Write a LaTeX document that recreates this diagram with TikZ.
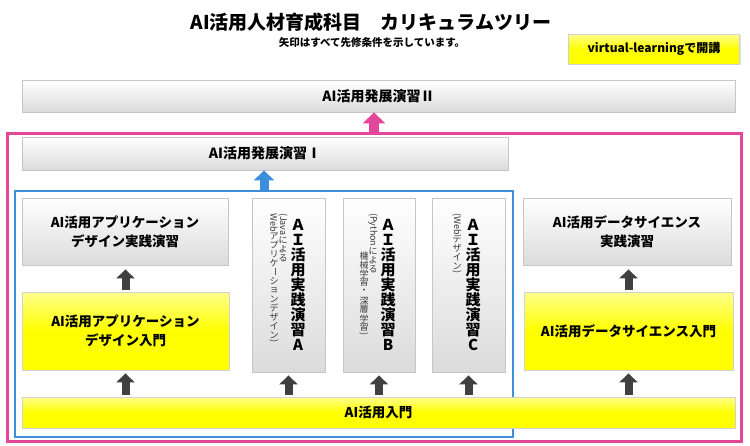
\documentclass[tikz,border=0pt]{standalone}
\usepackage{fontspec}
\usepackage{graphicx}
\setmainfont{Noto Sans CJK JP}
\usetikzlibrary{arrows.meta,shadows}
\definecolor{pinkc}{HTML}{E4469A}
\definecolor{bluec}{HTML}{3D8FDB}
\definecolor{arrowc}{HTML}{404040}
\definecolor{smallc}{HTML}{3A3A3A}
% vertical typesetting helpers
\newcommand\vj[1]{\hbox to 1em{\hss\vbox to 1em{\vss\hbox{#1}\vss}\hss}}
\newcommand\vr[1]{\hbox to 1em{\hss\rotatebox{-90}{#1}\hss}}
\newcommand\vcol[1]{\vbox{\offinterlineskip #1}}
\tikzset{
  graybox/.style={draw=gray!45, line width=0.8pt, top color=white, bottom color=gray!28,
    inner sep=0pt, align=center,
    drop shadow={opacity=0.22, shadow xshift=1.3pt, shadow yshift=-1.3pt},
    font=\bfseries\fontsize{13.5}{19}\selectfont},
  yellowbox/.style={graybox, draw=gray!35, top color=yellow!45!white, bottom color=yellow, middle color=yellow},
  frame/.style={inner sep=0pt, fill=none},
  darrow/.style={arrowc, line width=8pt, -{Triangle[width=18pt,length=9pt]}},
  bigcol/.style={inner sep=0pt, font=\bfseries\fontsize{15}{15}\selectfont},
  smallcol/.style={inner sep=0pt, anchor=north, text=smallc, font=\fontsize{9}{9}\selectfont},
}
\begin{document}
\begin{tikzpicture}[x=1pt,y=-1pt]
\useasboundingbox (0,0) rectangle (750,445);
% frames
\node[frame, draw=pinkc, line width=3pt, minimum width=734pt, minimum height=308pt] (pinkframe) at (374,287) {};
\node[frame, draw=bluec, line width=2.8pt, minimum width=498pt, minimum height=246pt] (blueframe) at (264,314) {};
% titles
\node[inner sep=0pt, font=\bfseries\fontsize{19}{22}\selectfont] (title) at (371,22) {AI活用人材育成科目　カリキュラムツリー};
\node[inner sep=0pt, font=\bfseries\fontsize{10.5}{12}\selectfont] (subtitle) at (372,43) {矢印はすべて先修条件を示しています。};
\node[yellowbox, minimum width=171pt, minimum height=30pt, font=\bfseries\fontsize{12}{14}\selectfont] (vl) at (654,49) {virtual-learningで開講};
% boxes
\node[graybox, minimum width=713pt, minimum height=32pt, font=\bfseries\fontsize{14}{16}\selectfont] (dev2) at (378.5,96) {AI活用発展演習Ⅱ};
\node[graybox, minimum width=486pt, minimum height=33pt, font=\bfseries\fontsize{14}{16}\selectfont] (dev1) at (265,153.5) {AI活用発展演習Ⅰ};
\node[graybox, minimum width=206pt, minimum height=67pt] (appprac) at (125,231.5) {AI活用アプリケーション\\デザイン実践演習};
\node[graybox, minimum width=73pt, minimum height=174pt] (pa) at (288.5,285) {};
\node[graybox, minimum width=72pt, minimum height=174pt] (pb) at (379,285) {};
\node[graybox, minimum width=73pt, minimum height=174pt] (pc) at (468.5,285) {};
\node[graybox, minimum width=208pt, minimum height=67pt] (dsprac) at (627,231.5) {AI活用データサイエンス\\実践演習};
\node[yellowbox, minimum width=207pt, minimum height=78pt] (appintro) at (125.5,331) {AI活用アプリケーション\\デザイン入門};
\node[yellowbox, minimum width=209pt, minimum height=78pt] (dsintro) at (628.5,331) {AI活用データサイエンス入門};
\node[yellowbox, minimum width=713pt, minimum height=31pt] (intro) at (378.5,412.5) {AI活用入門};
% vertical texts
\node[bigcol] (pat) at (298,285) {\vcol{\vj{Ａ}\vj{Ｉ}\vj{活}\vj{用}\vj{実}\vj{践}\vj{演}\vj{習}\vj{A}}};
\node[bigcol] (pbt) at (388,285) {\vcol{\vj{Ａ}\vj{Ｉ}\vj{活}\vj{用}\vj{実}\vj{践}\vj{演}\vj{習}\vj{B}}};
\node[bigcol] (pct) at (473,285) {\vcol{\vj{Ａ}\vj{Ｉ}\vj{活}\vj{用}\vj{実}\vj{践}\vj{演}\vj{習}\vj{C}}};
\node[smallcol] (pas1) at (283,213) {\vcol{\vr{(Java}\vj{に}\vj{よ}\vj{る}}};
\node[smallcol] (pas2) at (274,213) {\vcol{\vr{Web}\vj{ア}\vj{プ}\vj{リ}\vj{ケ}\vr{ー}\vj{シ}\vj{ョ}\vj{ン}\vj{デ}\vj{ザ}\vj{イ}\vj{ン}\vr{)}}};
\node[smallcol] (pbs1) at (373,213) {\vcol{\vr{(Python}\vj{に}\vj{よ}\vj{る}}};
\node[smallcol] (pbs2) at (364,251) {\vcol{\vj{機}\vj{械}\vj{学}\vj{習}\vj{・}\vj{深}\vj{層}\vj{学}\vj{習}\vr{)}}};
\node[smallcol] (pcs1) at (457,213) {\vcol{\vr{(Web}\vj{デ}\vj{ザ}\vj{イ}\vj{ン}\vr{)}}};
% arrows
\draw[pinkc, line width=10pt, -{Triangle[width=22pt,length=11pt]}] (pinkframe.north) -- (pinkframe.north |- dev2.south);
\draw[bluec, line width=9pt, -{Triangle[width=20pt,length=10pt]}] (blueframe.north) -- (blueframe.north |- dev1.south);
\draw[darrow, shorten <=2pt, shorten >=4pt] (appintro.north) -- (appintro.north |- appprac.south);
\draw[darrow, shorten <=2pt, shorten >=4pt] (dsintro.north) -- (dsintro.north |- dsprac.south);
\draw[darrow, shorten <=2pt, shorten >=3pt] (intro.north -| appintro.south) -- (appintro.south);
\draw[darrow, shorten <=2pt, shorten >=3pt] (intro.north -| pa.south) -- (pa.south);
\draw[darrow, shorten <=2pt, shorten >=3pt] (intro.north -| pb.south) -- (pb.south);
\draw[darrow, shorten <=2pt, shorten >=3pt] (intro.north -| pc.south) -- (pc.south);
\draw[darrow, shorten <=2pt, shorten >=3pt] (intro.north -| dsintro.south) -- (dsintro.south);
\end{tikzpicture}
\end{document}
